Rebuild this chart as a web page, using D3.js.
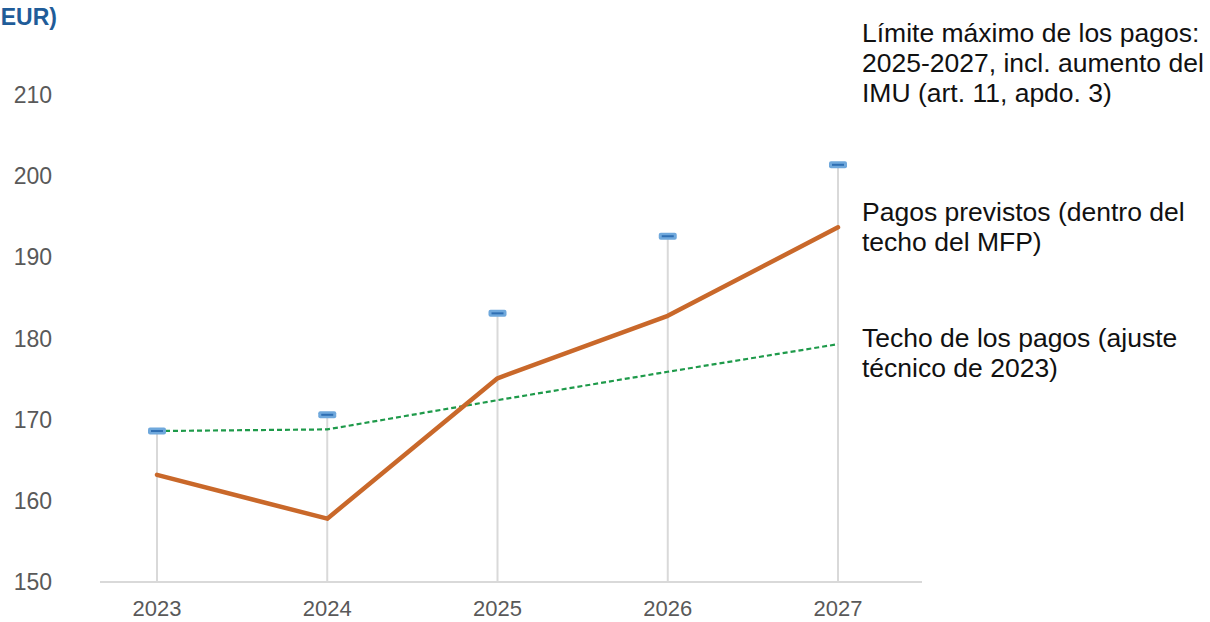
<!DOCTYPE html>
<html>
<head>
<meta charset="utf-8">
<script src="https://cdn.jsdelivr.net/npm/d3@7"></script>
<style>
  html, body { margin: 0; padding: 0; background: #fff; }
  svg { display: block; font-family: "Liberation Sans", Arial, sans-serif; }
</style>
</head>
<body>
<svg id="chart" width="1210" height="622"></svg>
<script>
// --- DATA ---
const years = ["2023", "2024", "2025", "2026", "2027"];
const limitValues = [168.6, 170.6, 183.1, 192.6, 201.4];     // Límite máximo de los pagos
const plannedValues = [163.2, 157.8, 175.1, 182.8, 193.7];   // Pagos previstos
const ceilingValues = [168.6, 168.8, 172.4, 175.9, 179.3];   // Techo de los pagos
const yTicks = [150, 160, 170, 180, 190, 200, 210];
const titleText = "(miles de millones de EUR)";
const notes = [
    { lines: ["Límite máximo de los pagos:", "2025-2027, incl. aumento del", "IMU (art. 11, apdo. 3)"], top: 33 },
    { lines: ["Pagos previstos (dentro del", "techo del MFP)"], top: 212 },
    { lines: ["Techo de los pagos (ajuste", "técnico de 2023)"], top: 338 }
];

// --- LAYOUT ---
const axisLeft = 100, axisRight = 922;
const yTop = 95, yBottom = 582;

const svg = d3.select("#chart");

const x = d3.scalePoint()
    .domain(years)
    .range([157, 838]);

const y = d3.scaleLinear()
    .domain([150, 210])
    .range([yBottom, yTop]);

// title (cut off at left edge, as in the source)
svg.append("text")
    .attr("x", 57)
    .attr("y", 25)
    .attr("text-anchor", "end")
    .attr("fill", "#1f5c99")
    .attr("font-weight", "bold")
    .attr("font-size", 23)
    .text(titleText);

// y tick labels (no axis line)
svg.append("g")
    .selectAll("text")
    .data(yTicks)
    .join("text")
        .attr("x", 52)
        .attr("y", d => y(d))
        .attr("dy", "0.35em")
        .attr("text-anchor", "end")
        .attr("fill", "#595959")
        .attr("font-size", 23)
        .text(d => d);

// drop lines from limit marker to axis
svg.append("g")
    .selectAll("line")
    .data(years)
    .join("line")
        .attr("x1", d => x(d))
        .attr("x2", d => x(d))
        .attr("y1", (d, i) => y(limitValues[i]))
        .attr("y2", yBottom)
        .attr("stroke", "#d9d9d9")
        .attr("stroke-width", 2);

// x axis line
svg.append("line")
    .attr("x1", axisLeft).attr("x2", axisRight)
    .attr("y1", yBottom).attr("y2", yBottom)
    .attr("stroke", "#d9d9d9")
    .attr("stroke-width", 2);

// x tick labels
svg.append("g")
    .selectAll("text")
    .data(years)
    .join("text")
        .attr("x", d => x(d))
        .attr("y", 616)
        .attr("text-anchor", "middle")
        .attr("fill", "#595959")
        .attr("font-size", 22)
        .text(d => d);

const line = d3.line()
    .x((d, i) => x(years[i]))
    .y(d => y(d));

// ceiling (dashed green)
svg.append("path")
    .attr("d", line(ceilingValues))
    .attr("fill", "none")
    .attr("stroke", "#1e9a4a")
    .attr("stroke-width", 2.2)
    .attr("stroke-dasharray", "5,3");

// planned payments (orange)
svg.append("path")
    .attr("d", line(plannedValues))
    .attr("fill", "none")
    .attr("stroke", "#c9682a")
    .attr("stroke-width", 4.5)
    .attr("stroke-linejoin", "round")
    .attr("stroke-linecap", "round");

// limit markers
const markers = svg.append("g")
    .selectAll("g")
    .data(years)
    .join("g")
        .attr("transform", (d, i) => `translate(${x(d)},${y(limitValues[i])})`);

markers.append("rect")
    .attr("x", -9).attr("y", -3.5)
    .attr("width", 18).attr("height", 7)
    .attr("rx", 2)
    .attr("fill", "#6fa8dc");

markers.append("line")
    .attr("x1", -6).attr("x2", 6)
    .attr("stroke", "#2f6fb3")
    .attr("stroke-width", 2);

// annotations
notes.forEach(n => {
    svg.append("text")
        .attr("x", 862)
        .attr("y", n.top)
        .attr("font-size", 26.5)
        .attr("fill", "#111")
        .selectAll("tspan")
        .data(n.lines)
        .join("tspan")
            .attr("x", 862)
            .attr("dy", (d, i) => i ? 30 : "0.35em")
            .text(d => d);
});
</script>
</body>
</html>
